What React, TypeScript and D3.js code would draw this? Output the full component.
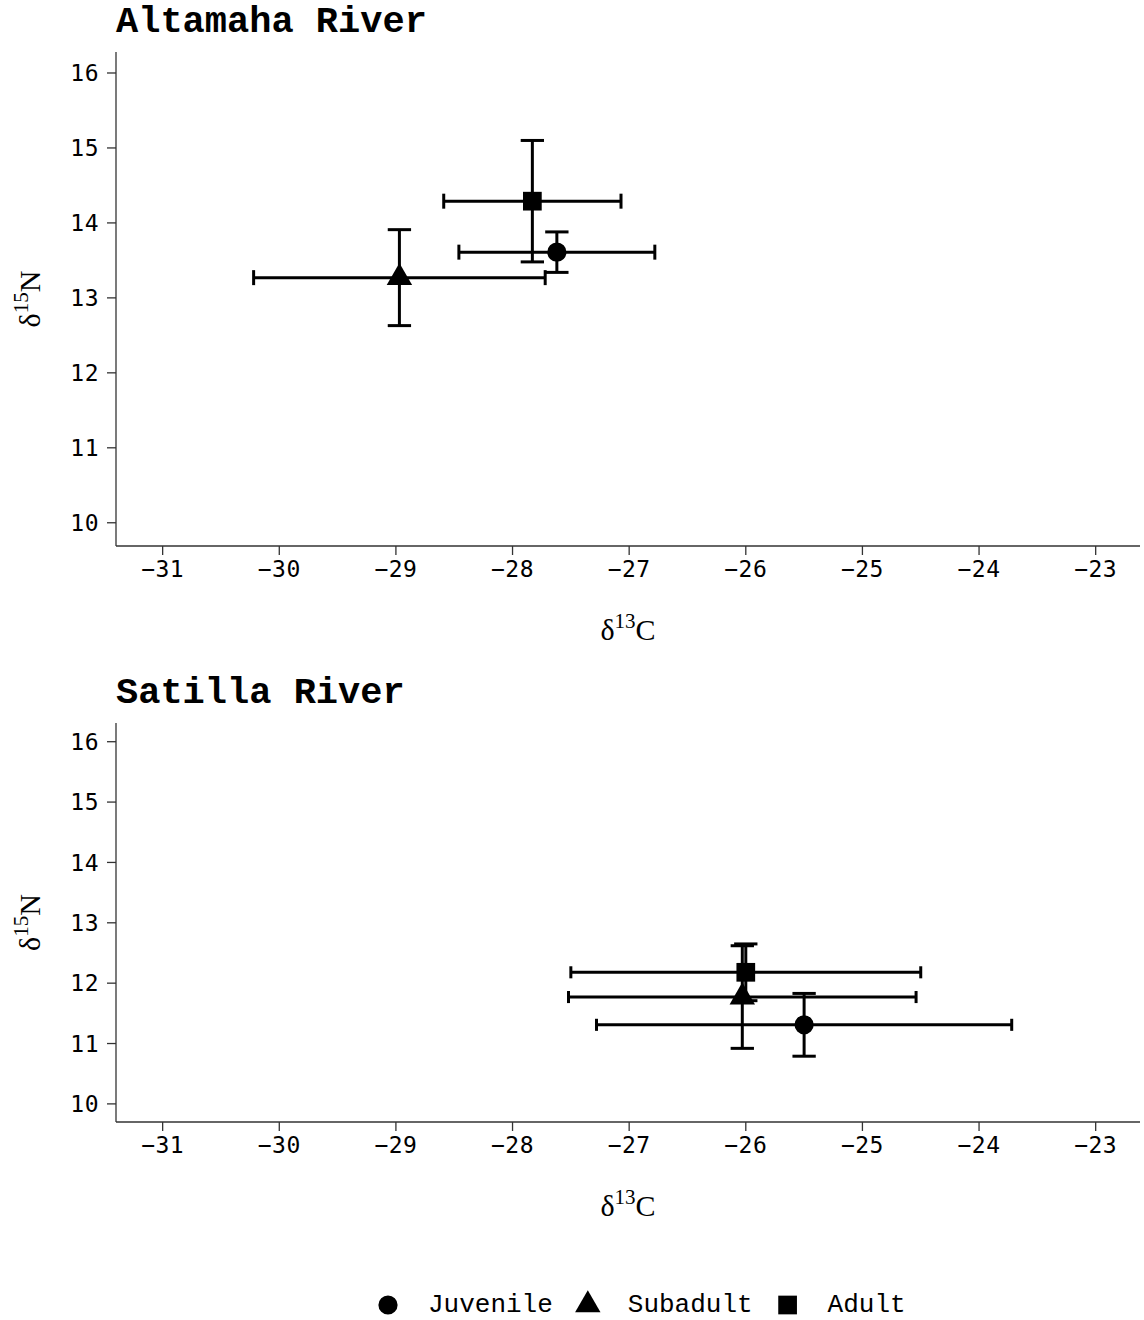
import React from "react";
import * as d3 from "d3";

// life stages, same order in every array below
const stages = ["Juvenile", "Subadult", "Adult"];

// Altamaha River: mean and sd of d13C / d15N
const altamahaC = [-27.62, -28.97, -27.83];
const altamahaCsd = [0.84, 1.25, 0.76];
const altamahaN = [13.61, 13.27, 14.29];
const altamahaNsd = [0.27, 0.64, 0.81];

// Satilla River
const satillaC = [-25.5, -26.03, -26.0];
const satillaCsd = [1.78, 1.49, 1.5];
const satillaN = [11.31, 11.77, 12.18];
const satillaNsd = [0.52, 0.85, 0.47];

const panels = [
  { title: "Altamaha River", c: altamahaC, csd: altamahaCsd, n: altamahaN, nsd: altamahaNsd, top: 52, bottom: 546, yDomain: [9.69, 16.28] },
  { title: "Satilla River", c: satillaC, csd: satillaCsd, n: satillaN, nsd: satillaNsd, top: 723, bottom: 1122, yDomain: [9.7, 16.31] },
];

const W = 1144, H = 1320;
const left = 116, right = 1140;
const capW = 0.2; // errorbar cap size, data units
const axisCol = "#333333";
const tickFont = "'DejaVu Sans Mono', monospace";
const serif = "'Liberation Serif', 'Times New Roman', serif";
const mono = "'Liberation Mono', 'Courier New', monospace";

const x = d3.scaleLinear().domain([-31.4, -22.62]).range([left, right]);
const fmt = d3.format("d");

const shapes = [d3.symbolCircle, d3.symbolTriangle, d3.symbolSquare];
const sizes = [290, 280, 350];
const sym = (i: number) => d3.symbol().type(shapes[i]).size(sizes[i])() as string;

function Panel({ p }: { p: any }) {
  const y = d3.scaleLinear().domain(p.yDomain).range([p.bottom, p.top]);
  const cy = (p.top + p.bottom) / 2;
  const hCap = Math.abs(y(0) - y(capW)) / 2;
  const vCap = Math.abs(x(capW) - x(0)) / 2;
  return (
    <g>
      <text x={left} y={p.top - 20} fontFamily={mono} fontWeight="bold" fontSize={37}>{p.title}</text>
      {/* axes */}
      <line x1={left} x2={left} y1={p.top} y2={p.bottom} stroke={axisCol} strokeWidth={1.3} />
      <line x1={left} x2={right} y1={p.bottom} y2={p.bottom} stroke={axisCol} strokeWidth={1.3} />
      {y.ticks(6).map((t) => (
        <g key={"y" + t}>
          <line x1={left - 9} x2={left} y1={y(t)} y2={y(t)} stroke={axisCol} strokeWidth={1.3} />
          <text x={left - 17} y={y(t)} dy="0.36em" textAnchor="end" fontFamily={tickFont} fontSize={23} letterSpacing={0.5}>{fmt(t)}</text>
        </g>
      ))}
      {x.ticks(8).map((t) => (
        <g key={"x" + t}>
          <line x1={x(t)} x2={x(t)} y1={p.bottom} y2={p.bottom + 9} stroke={axisCol} strokeWidth={1.3} />
          <text x={x(t)} y={p.bottom + 31} textAnchor="middle" fontFamily={tickFont} fontSize={23} letterSpacing={0.5}>{fmt(t)}</text>
        </g>
      ))}
      <text x={(left + right) / 2} y={p.bottom + 94} textAnchor="middle" fontFamily={serif} fontSize={30}>
        δ<tspan fontSize={21} dy={-12}>13</tspan><tspan dy={12}>C</tspan>
      </text>
      <text transform={`translate(40,${cy}) rotate(-90)`} textAnchor="middle" fontFamily={serif} fontSize={30}>
        δ<tspan fontSize={21} dy={-12}>15</tspan><tspan dy={12}>N</tspan>
      </text>
      {/* vertical error bars */}
      {stages.map((s, i) => {
        const lo = y(p.n[i] - p.nsd[i]), hi = y(p.n[i] + p.nsd[i]), xx = x(p.c[i]);
        return (
          <g key={"v" + s} stroke="#000" strokeWidth={3}>
            <line x1={xx} x2={xx} y1={lo} y2={hi} />
            <line x1={xx - vCap} x2={xx + vCap} y1={lo} y2={lo} />
            <line x1={xx - vCap} x2={xx + vCap} y1={hi} y2={hi} />
          </g>
        );
      })}
      {/* horizontal error bars */}
      {stages.map((s, i) => {
        const lo = x(p.c[i] - p.csd[i]), hi = x(p.c[i] + p.csd[i]), yy = y(p.n[i]);
        return (
          <g key={"h" + s} stroke="#000" strokeWidth={3}>
            <line x1={lo} x2={hi} y1={yy} y2={yy} />
            <line x1={lo} x2={lo} y1={yy - hCap} y2={yy + hCap} />
            <line x1={hi} x2={hi} y1={yy - hCap} y2={yy + hCap} />
          </g>
        );
      })}
      {stages.map((s, i) => (
        <path key={"p" + s} d={sym(i)} transform={`translate(${x(p.c[i])},${y(p.n[i])})`} fill="#000" />
      ))}
    </g>
  );
}

export default function App() {
  const charW = 26 * 0.6;
  let cursor = 388;
  const legend = stages.map((s, i) => {
    const item = { s, i, kx: cursor, tx: cursor + 40 };
    cursor = item.tx + s.length * charW + 35;
    return item;
  });
  return (
    <svg width={W} height={H} style={{ position: "absolute", left: 0, top: 0, background: "#fff" }}>
      {panels.map((p) => <Panel key={p.title} p={p} />)}
      {legend.map((l) => (
        <g key={l.s}>
          <path d={sym(l.i)} transform={`translate(${l.kx},1305)`} fill="#000" />
          <text x={l.tx} y={1312} fontFamily={mono} fontSize={26}>{l.s}</text>
        </g>
      ))}
    </svg>
  );
}
